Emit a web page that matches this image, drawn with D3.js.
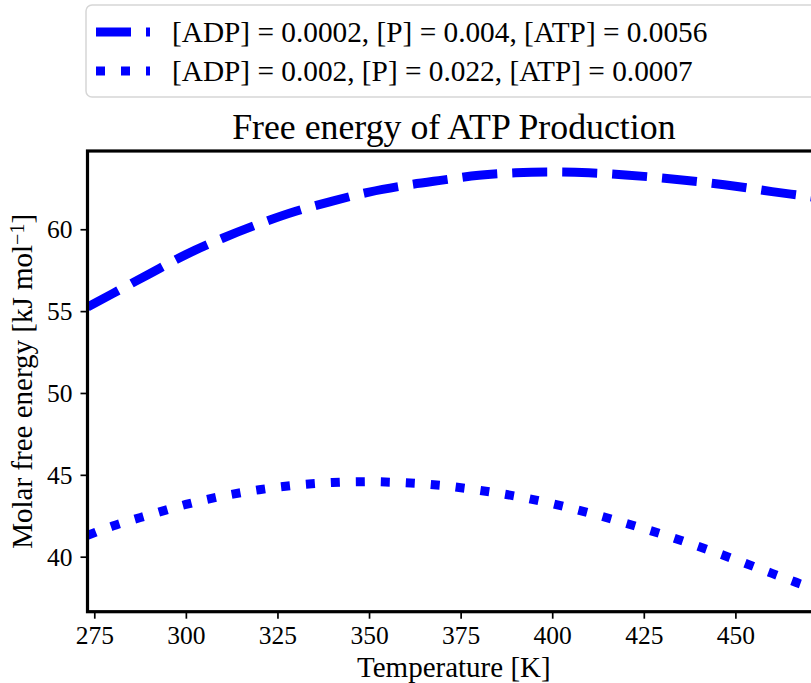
<!DOCTYPE html>
<html>
<head>
<meta charset="utf-8">
<script src="https://cdn.jsdelivr.net/npm/d3@7/dist/d3.min.js"></script>
<style>
  html, body { margin: 0; padding: 0; background: #fff; overflow: hidden; }
  svg { display: block; }
  text { font-family: "Liberation Serif", "DejaVu Serif", serif; fill: #000; }
</style>
</head>
<body>
<svg id="chart" width="811" height="683"></svg>
<script>
// ---- data ----
const temperatures = [273.15, 280, 290, 300, 310, 320, 330, 340, 350, 360, 370, 380, 390, 400, 410, 420, 430, 440, 450, 460, 470, 473.15];
const seriesLow   = [55.25, 56.07, 57.27, 58.45, 59.45, 60.33, 61.10, 61.72, 62.27, 62.68, 63.00, 63.30, 63.45, 63.50, 63.45, 63.32, 63.13, 62.90, 62.63, 62.30, 62.00, 61.90];
const seriesHigh  = [41.30, 41.87, 42.55, 43.19, 43.70, 44.09, 44.37, 44.53, 44.58, 44.51, 44.35, 44.06, 43.70, 43.24, 42.68, 42.05, 41.37, 40.62, 39.82, 38.98, 38.17, 37.96];
const seriesLabels = ["[ADP] = 0.0002, [P] = 0.004, [ATP] = 0.0056", "[ADP] = 0.002, [P] = 0.022, [ATP] = 0.0007"];
const xTicks = [275, 300, 325, 350, 375, 400, 425, 450];
const yTicks = [40, 45, 50, 55, 60];
const titleText = "Free energy of ATP Production";
const xLabelText = "Temperature [K]";

// ---- layout ----
const svg = d3.select("#chart");
const plot = { left: 87.5, right: 820.2, top: 151, bottom: 611.7 };
const x = d3.scaleLinear().domain([273.15, 473.15]).range([plot.left, plot.right]);
const y = d3.scaleLinear().domain([36.64, 64.78]).range([plot.bottom, plot.top]);

const styles = [
  { dash: "35,15", width: 9 },
  { dash: "9,16", width: 9 }
];
const series = [seriesLow, seriesHigh];

// clip
svg.append("defs").append("clipPath").attr("id", "clip")
  .append("rect").attr("x", plot.left).attr("y", plot.top)
  .attr("width", plot.right - plot.left).attr("height", plot.bottom - plot.top);

const line = d3.line()
  .x((d, i) => x(temperatures[i]))
  .y(d => y(d))
  .curve(d3.curveMonotoneX);

const gLines = svg.append("g").attr("clip-path", "url(#clip)");
series.forEach((s, k) => {
  gLines.append("path")
    .datum(s)
    .attr("d", line)
    .attr("fill", "none")
    .attr("stroke", "#0000ff")
    .attr("stroke-width", styles[k].width)
    .attr("stroke-dasharray", styles[k].dash)
    .attr("stroke-linecap", "butt");
});

// axes
const xAxis = d3.axisBottom(x).tickValues(xTicks).tickSize(7).tickPadding(9).tickFormat(d3.format("d"));
const yAxis = d3.axisLeft(y).tickValues(yTicks).tickSize(7).tickPadding(8).tickFormat(d3.format("d"));

const gx = svg.append("g").attr("transform", `translate(0,${plot.bottom})`).call(xAxis);
const gy = svg.append("g").attr("transform", `translate(${plot.left},0)`).call(yAxis);
[gx, gy].forEach(g => {
  g.select(".domain").remove();
  g.selectAll(".tick line").attr("stroke", "#000").attr("stroke-width", 1.7);
  g.selectAll(".tick text").style("font-family", '"Liberation Serif", serif').style("font-size", "25.5px").attr("fill", "#000");
});
gx.selectAll(".tick text").attr("dy", null).attr("y", 0).attr("transform", "translate(0,32.5)");
gy.selectAll(".tick text").attr("dy", "0.34em").attr("x", -15);

// spines
svg.append("rect")
  .attr("x", plot.left).attr("y", plot.top)
  .attr("width", plot.right - plot.left).attr("height", plot.bottom - plot.top)
  .attr("fill", "none").attr("stroke", "#000").attr("stroke-width", 3.2);

// title
svg.append("text")
  .attr("x", (plot.left + plot.right) / 2).attr("y", 139)
  .attr("text-anchor", "middle")
  .style("font-size", "35.8px")
  .text(titleText);

// x label
svg.append("text")
  .attr("x", (plot.left + plot.right) / 2).attr("y", 676.5)
  .attr("text-anchor", "middle")
  .style("font-size", "29px")
  .text(xLabelText);

// y label
const yl = svg.append("text")
  .attr("transform", `translate(32,${(plot.top + plot.bottom) / 2}) rotate(-90)`)
  .attr("text-anchor", "middle")
  .style("font-size", "29px");
yl.append("tspan").text("Molar free energy [kJ mol");
yl.append("tspan").text("−1").attr("baseline-shift", "38%").style("font-size", "20px");
yl.append("tspan").text("]");

// legend
const lg = svg.append("g");
lg.append("rect")
  .attr("x", 86).attr("y", 5)
  .attr("width", 760).attr("height", 92)
  .attr("rx", 6).attr("ry", 6)
  .attr("fill", "#fff").attr("fill-opacity", 0.8)
  .attr("stroke", "#d6d6d6").attr("stroke-width", 1.5);
const rowY = [32, 71];
seriesLabels.forEach((lab, k) => {
  lg.append("line")
    .attr("x1", 96).attr("x2", 150)
    .attr("y1", rowY[k]).attr("y2", rowY[k])
    .attr("stroke", "#0000ff")
    .attr("stroke-width", styles[k].width)
    .attr("stroke-dasharray", styles[k].dash)
    .attr("stroke-linecap", "butt");
  lg.append("text")
    .attr("x", 172).attr("y", rowY[k] + 9.5)
    .style("font-size", "29.3px")
    .text(lab);
});
</script>
</body>
</html>
